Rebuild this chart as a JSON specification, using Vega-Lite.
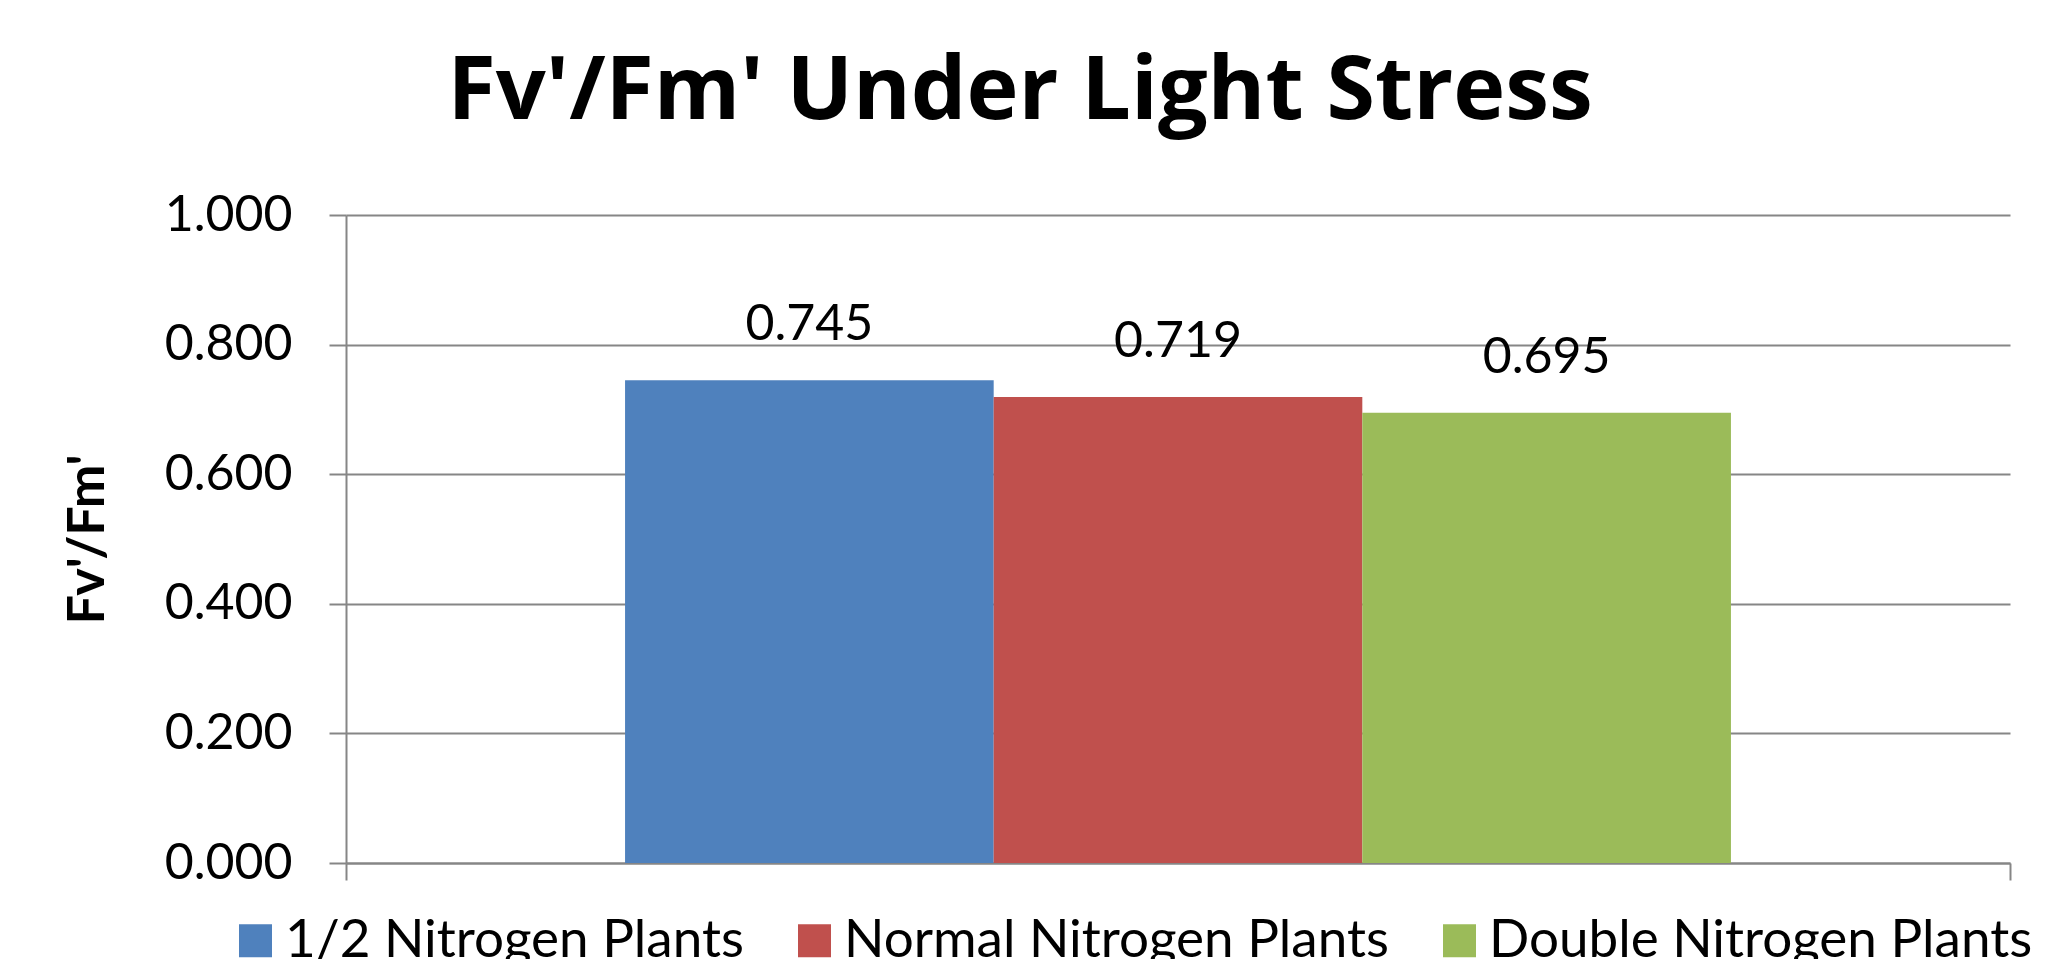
{
  "$schema": "https://vega.github.io/schema/vega-lite/v6.json",
  "width": 1664,
  "height": 648,
  "autosize": {"type": "none"},
  "padding": {"left": 346, "top": 215, "right": 48, "bottom": 96},
  "background": "white",
  "title": {
    "text": "Fv'/Fm' Under Light Stress",
    "font": "Open Sans",
    "fontWeight": "bold",
    "fontSize": 88,
    "color": "black",
    "anchor": "middle",
    "frame": "group",
    "dx": -158,
    "dy": 17,
    "baseline": "alphabetic",
    "offset": 0
  },
  "config": {"view": {"stroke": null}},
  "data": {
    "values": [
      {"condition": "Light Stress", "series": "1/2 Nitrogen Plants", "value": 0.745},
      {"condition": "Light Stress", "series": "Normal Nitrogen Plants", "value": 0.719},
      {"condition": "Light Stress", "series": "Double Nitrogen Plants", "value": 0.695}
    ]
  },
  "encoding": {
    "x": {
      "field": "condition",
      "type": "nominal",
      "scale": {"paddingInner": 0, "paddingOuter": 0},
      "axis": {
        "labels": false,
        "title": null,
        "tickBand": "extent",
        "ticks": true,
        "tickSize": 17,
        "tickColor": "#868686",
        "tickWidth": 2,
        "domainColor": "#868686",
        "domainWidth": 2
      }
    },
    "xOffset": {
      "field": "series",
      "type": "nominal",
      "sort": null,
      "scale": {"paddingInner": 0, "paddingOuter": 0.757}
    },
    "y": {
      "field": "value",
      "type": "quantitative",
      "scale": {"domain": [0, 1]},
      "axis": {
        "values": [0, 0.2, 0.4, 0.6, 0.8, 1.0],
        "format": ".3f",
        "labelFont": "Lato",
        "labelFontSize": 50,
        "labelColor": "black",
        "labelPadding": 37,
        "tickSize": 17,
        "tickColor": "#868686",
        "tickWidth": 2,
        "domainColor": "#868686",
        "domainWidth": 2,
        "grid": true,
        "gridColor": "#868686",
        "gridWidth": 2,
        "title": "Fv'/Fm'",
        "titleFont": "Lato",
        "titleFontWeight": "bold",
        "titleFontSize": 52,
        "titleColor": "black",
        "titleAngle": -90,
        "titleAlign": "center",
        "titleBaseline": "alphabetic",
        "titleX": -243,
        "titleY": 324
      }
    }
  },
  "layer": [
    {
      "mark": {"type": "bar"},
      "encoding": {
        "color": {
          "field": "series",
          "type": "nominal",
          "sort": null,
          "scale": {
            "domain": ["1/2 Nitrogen Plants", "Normal Nitrogen Plants", "Double Nitrogen Plants"],
            "range": ["#4F81BD", "#C0504D", "#9BBB59"]
          },
          "legend": {
            "orient": "none",
            "legendX": -117,
            "legendY": 699,
            "direction": "horizontal",
            "title": null,
            "symbolType": "square",
            "symbolSize": 1089,
            "symbolStrokeWidth": 0,
            "labelFont": "Lato",
            "labelFontSize": 53,
            "labelColor": "black",
            "labelOffset": 3,
            "labelLimit": 1000,
            "columnPadding": 44
          }
        }
      }
    },
    {
      "mark": {
        "type": "text",
        "dy": -40,
        "baseline": "alphabetic",
        "font": "Lato",
        "fontSize": 50,
        "color": "black"
      },
      "encoding": {
        "text": {"field": "value", "type": "quantitative", "format": ".3f"}
      }
    }
  ]
}
